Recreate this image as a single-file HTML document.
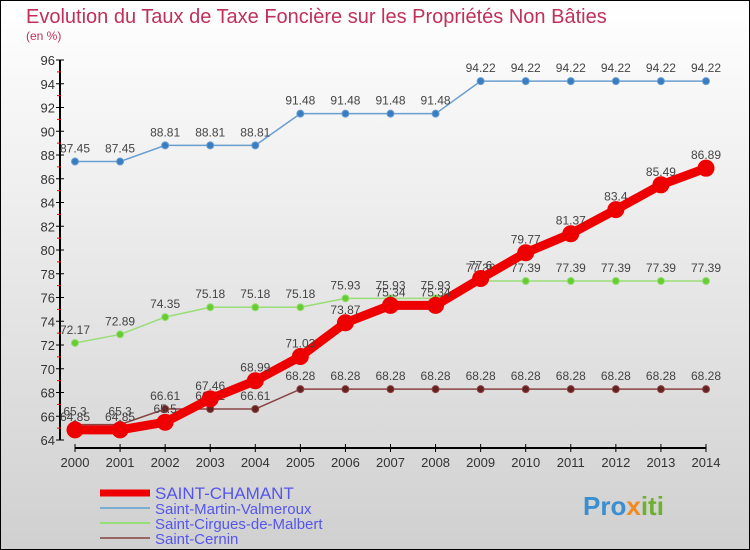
<!DOCTYPE html>
<html><head><meta charset="utf-8"><style>
body{margin:0}
#c{width:750px;height:550px;position:relative;overflow:hidden;font-family:"Liberation Sans",sans-serif}
svg text{font-family:"Liberation Sans",sans-serif}
</style></head><body>
<div id="c">
<svg id="s" width="750" height="550" xmlns="http://www.w3.org/2000/svg">
<defs><linearGradient id="bg" x1="0" y1="0" x2="0" y2="1"><stop offset="0" stop-color="#ffffff"/><stop offset="1" stop-color="#d0d0d0"/></linearGradient></defs>
<rect x="0.5" y="0.5" width="749" height="549" fill="url(#bg)" stroke="#000"/>
<text x="26" y="23" font-size="20" fill="#c0305a">Evolution du Taux de Taxe Foncière sur les Propriétés Non Bâties</text>
<text x="26" y="40" font-size="12" fill="#c0305a">(en %)</text>
<g id="axes"></g><g id="series"></g>
<g>
<line x1="100" y1="493" x2="150" y2="493" stroke="#ee0000" stroke-width="7"/>
<text x="155" y="499" font-size="17" fill="#5555ee">SAINT-CHAMANT</text>
<line x1="100" y1="508" x2="150" y2="508" stroke="#7aaed0" stroke-width="2"/>
<text x="155" y="514" font-size="15" fill="#5555ee">Saint-Martin-Valmeroux</text>
<line x1="100" y1="523" x2="150" y2="523" stroke="#99dd77" stroke-width="2"/>
<text x="155" y="529" font-size="15" fill="#5555ee">Saint-Cirgues-de-Malbert</text>
<line x1="100" y1="538" x2="150" y2="538" stroke="#996666" stroke-width="2"/>
<text x="155" y="544" font-size="15" fill="#5555ee">Saint-Cernin</text>
</g>
<text x="583" y="515" font-size="26" font-weight="bold" fill="#3a8fd0">Pro<tspan fill="#f08a20">x</tspan><tspan fill="#70b030">iti</tspan></text>
</svg>
</div>
<script>
const years=[2000,2001,2002,2003,2004,2005,2006,2007,2008,2009,2010,2011,2012,2013,2014];
const yTicks=[64,66,68,70,72,74,76,78,80,82,84,86,88,90,92,94,96];
const chamant=[64.85,64.85,65.5,67.46,68.99,71.03,73.87,75.34,75.34,77.6,79.77,81.37,83.4,85.49,86.89];
const martin=[87.45,87.45,88.81,88.81,88.81,91.48,91.48,91.48,91.48,94.22,94.22,94.22,94.22,94.22,94.22];
const cirgues=[72.17,72.89,74.35,75.18,75.18,75.18,75.93,75.93,75.93,77.39,77.39,77.39,77.39,77.39,77.39];
const cernin=[65.3,65.3,66.61,66.61,66.61,68.28,68.28,68.28,68.28,68.28,68.28,68.28,68.28,68.28,68.28];
const NS='http://www.w3.org/2000/svg';
const X=y=>75+(y-2000)*(706-75)/14;
const Y=v=>440-(v-64)*380/32;
function mk(t,a,p){const e=document.createElementNS(NS,t);for(const k in a)e.setAttribute(k,a[k]);p.appendChild(e);return e;}
const ax=document.getElementById('axes');
let l=mk('line',{x1:60,y1:Y(96),x2:60,y2:Y(64),stroke:'#000','stroke-width':2},ax);


yTicks.forEach(v=>{
 const t=mk('line',{x1:56,y1:Y(v),x2:64,y2:Y(v),stroke:'#000'},ax);
 
 
 if(v<96){const m=mk('line',{x1:57,y1:Y(v+1),x2:61,y2:Y(v+1),stroke:'#e00'},ax);
 
 }
 const tx=mk('text',{x:55,y:Y(v)+5,'font-size':13,fill:'#333','text-anchor':'end'},ax);tx.textContent=v;
 
 
});
l=mk('line',{x1:X(2000),y1:448,x2:X(2014),y2:448,stroke:'#000','stroke-width':2},ax);


years.forEach(y=>{
 const t=mk('line',{x1:X(y),y1:444,x2:X(y),y2:452,stroke:'#000'},ax);
 
 
 const tx=mk('text',{x:X(y),y:467,'font-size':13,fill:'#333','text-anchor':'middle'},ax);tx.textContent=y;
 
 
});
const sg=document.getElementById('series');
function series(name,vals,color,lw,r,dot){
 const g=mk('g',{},sg);
 
 
 const p=mk('polyline',{points:vals.map((v,i)=>X(years[i])+','+Y(v)).join(' '),fill:'none',stroke:color,'stroke-width':lw,'stroke-linejoin':'round'},g);
 
 
 vals.forEach((v,i)=>{
  const c=mk('circle',{cx:X(years[i]),cy:Y(v),r:r,fill:dot,stroke:color,'stroke-width':1},g);
  
  
  const t=mk('text',{x:X(years[i]),y:Y(v)-9,'font-size':12,fill:'#444','text-anchor':'middle'},g);t.textContent=v;
  
  
 });
}
series('saint-martin',martin,'#6a9ed0',1.5,3.5,'#3a7cc0');
series('saint-cirgues',cirgues,'#99dd77',1.5,3.5,'#66cc33');
series('saint-cernin',cernin,'#8a4444',1.5,3.5,'#662222');
series('saint-chamant',chamant,'#ee0000',9,8,'#ee0000');
</script>
</body></html>
